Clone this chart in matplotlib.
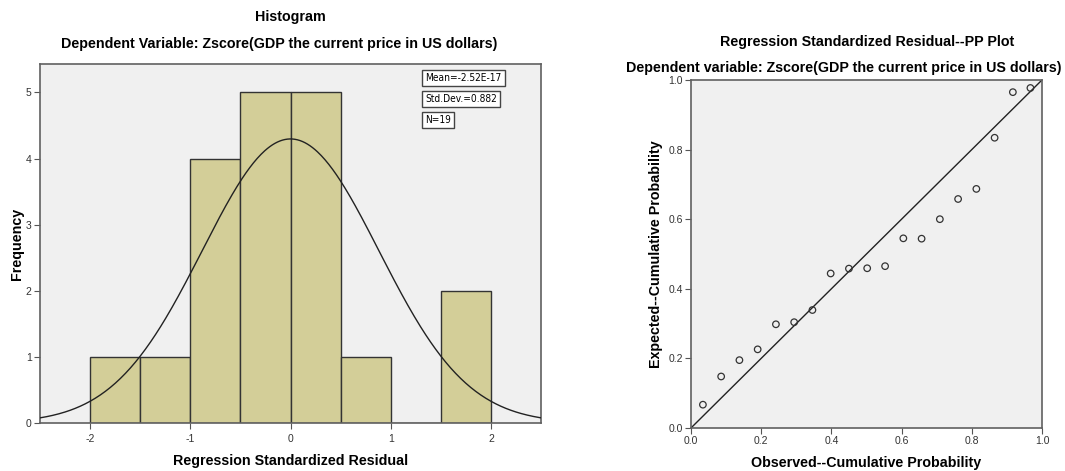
import numpy as np
import matplotlib.pyplot as plt

plt.rcParams['font.family'] = ['Liberation Sans', 'DejaVu Sans']

# histogram data (bin edges and counts)
bin_edges = [-2.0, -1.5, -1.0, -0.5, 0.0, 0.5, 1.0, 1.5, 2.0]
counts = [1, 1, 4, 5, 5, 1, 0, 2]
mean = -2.52e-17
std_dev = 0.882
n_obs = 19

# PP plot data
observed_cum = [0.034, 0.086, 0.138, 0.190, 0.242, 0.294, 0.346, 0.398, 0.450,
                0.502, 0.553, 0.605, 0.657, 0.709, 0.761, 0.813, 0.865, 0.917, 0.967]
expected_cum = [0.067, 0.148, 0.195, 0.226, 0.298, 0.304, 0.339, 0.444, 0.458,
                0.459, 0.465, 0.545, 0.544, 0.600, 0.658, 0.687, 0.834, 0.965, 0.977]

bg = '#f0f0f0'
bar_col = '#d3ce98'
frame_col = '#606060'

fig = plt.figure(figsize=(10.65, 4.71), dpi=100)

# ---- histogram ----
ax1 = fig.add_axes([0.0376, 0.102, 0.4704, 0.762])
ax1.set_facecolor(bg)
widths = np.diff(bin_edges)
ax1.bar(bin_edges[:-1], counts, width=widths, align='edge',
        color=bar_col, edgecolor='#333333', linewidth=1.0, zorder=2)

# fitted normal curve
xs = np.linspace(-2.5, 2.5, 400)
bw = widths[0]
curve = n_obs * bw / (std_dev * np.sqrt(2 * np.pi)) * np.exp(-0.5 * ((xs - mean) / std_dev) ** 2)
ax1.plot(xs, curve, color='#222222', linewidth=1.0, zorder=3)

ax1.set_xlim(-2.5, 2.5)
ax1.set_ylim(0, 5.43)
ax1.set_xticks([-2, -1, 0, 1, 2])
ax1.set_xticklabels(['-2', '-1', '0', '1', '2'])
ax1.set_yticks([0, 1, 2, 3, 4, 5])
ax1.set_xlabel('Regression Standardized Residual', fontsize=10.3, fontweight='bold', labelpad=7)
ax1.set_ylabel('Frequency', fontsize=10.3, fontweight='bold', labelpad=1)

fig.text(0.2725, 0.964, 'Histogram', ha='center', va='center', fontsize=10.3, fontweight='bold')
fig.text(0.2625, 0.906, 'Dependent Variable: Zscore(GDP the current price in US dollars)',
         ha='center', va='center', fontsize=10.3, fontweight='bold')

box = dict(boxstyle='square,pad=0.3', facecolor='white', edgecolor='#444444', linewidth=1)
stats = ['Mean=-2.52E-17', 'Std.Dev.=0.882', 'N=19']
for i, s in enumerate(stats):
    fig.text(0.3995, 0.834 - i * 0.044, s, ha='left', va='center', fontsize=7.3,
             family='DejaVu Sans', fontstretch='condensed', bbox=box)

# ---- PP plot ----
ax2 = fig.add_axes([0.6488, 0.0913, 0.3296, 0.7389])
ax2.set_facecolor(bg)
ax2.plot([0, 1], [0, 1], color='#222222', linewidth=1.0, zorder=2)
ax2.scatter(observed_cum, expected_cum, s=22, facecolors='none',
            edgecolors='#333333', linewidths=0.9, zorder=3)
ax2.set_xlim(0, 1)
ax2.set_ylim(0, 1)
ticks = [0.0, 0.2, 0.4, 0.6, 0.8, 1.0]
ax2.set_xticks(ticks)
ax2.set_yticks(ticks)
ax2.set_xticklabels([f'{t:.1f}' for t in ticks])
ax2.set_yticklabels([f'{t:.1f}' for t in ticks])
ax2.set_xlabel('Observed--Cumulative Probability', fontsize=10.3, fontweight='bold', labelpad=7)
ax2.set_ylabel('Expected--Cumulative Probability', fontsize=10.3, fontweight='bold', labelpad=4)

fig.text(0.8145, 0.91, 'Regression Standardized Residual--PP Plot', ha='center', va='center',
         fontsize=10.3, fontweight='bold')
fig.text(0.997, 0.855, 'Dependent variable: Zscore(GDP the current price in US dollars)',
         ha='right', va='center', fontsize=10.3, fontweight='bold')

for ax in (ax1, ax2):
    for sp in ax.spines.values():
        sp.set_color(frame_col)
        sp.set_linewidth(1.2)
    ax.tick_params(direction='out', length=4, width=0.8, color='#555555',
                   labelsize=7.5, labelcolor='#333333', pad=2)
ax1.tick_params(axis='x', pad=4)

fig.savefig('out.png', dpi=100)
